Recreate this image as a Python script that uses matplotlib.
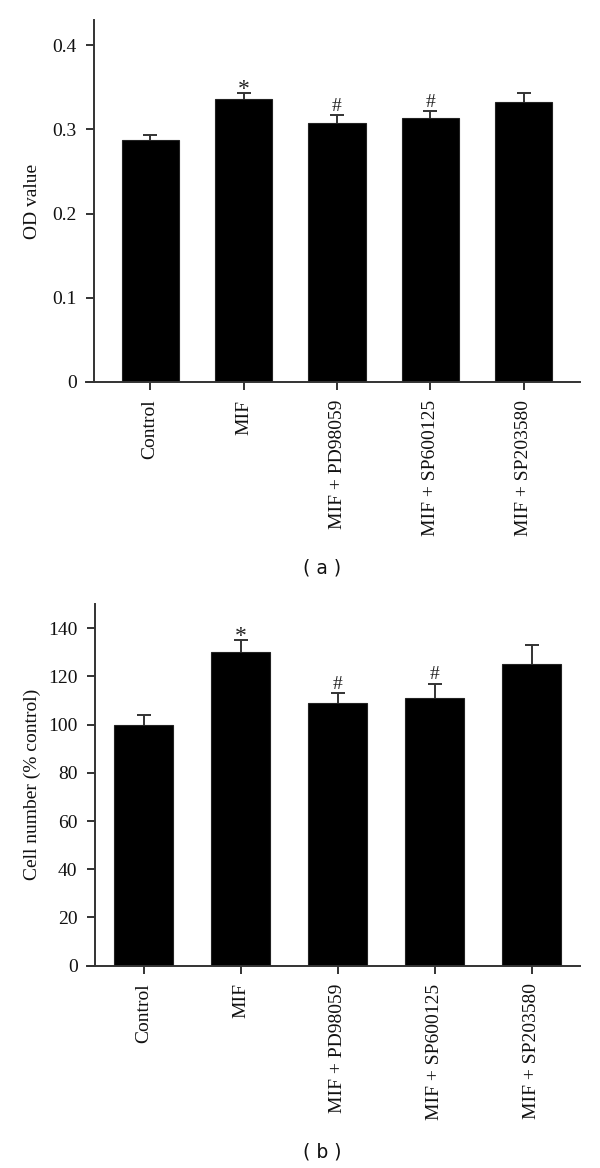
import matplotlib
matplotlib.use("Agg")
import matplotlib.pyplot as plt
import numpy as np

# data
groups = ["Control", "MIF", "MIF + PD98059", "MIF + SP600125", "MIF + SP203580"]
od_mean = [0.287, 0.336, 0.308, 0.314, 0.332]
od_err = [0.006, 0.007, 0.009, 0.008, 0.011]
od_marks = ["", "*", "#", "#", ""]
od_ticks = [0, 0.1, 0.2, 0.3, 0.4]
od_ticklabels = ["0", "0.1", "0.2", "0.3", "0.4"]

cell_mean = [100, 130, 109, 111, 125]
cell_err = [4, 5, 4, 6, 8]
cell_marks = ["", "*", "#", "#", ""]
cell_ticks = [0, 20, 40, 60, 80, 100, 120, 140]
cell_ticklabels = ["0", "20", "40", "60", "80", "100", "120", "140"]

serif = "Liberation Serif"
axcol = "#333333"

fig = plt.figure(figsize=(6, 11.68), dpi=100)


def panel(rect, means, errs, marks, ticks, ticklabels, ylim, xl, ylab, lab_x):
    ax = fig.add_axes(rect)
    x = np.arange(len(groups))
    ax.bar(x, means, width=0.61, color="black", edgecolor="#222222", linewidth=0.8, zorder=2)
    ax.errorbar(x, means, yerr=errs, fmt="none", ecolor=axcol, elinewidth=1.4,
                capsize=4.7, capthick=1.4, zorder=1)
    for xi, m, e, s in zip(x, means, errs, marks):
        if s == "*":
            ax.annotate(s, (xi, m + e), xytext=(0, -1), textcoords="offset points",
                        ha="center", va="baseline", fontsize=17, family=serif, color="#222222")
        elif s == "#":
            ax.annotate(s, (xi, m + e), xytext=(0, 3), textcoords="offset points",
                        ha="center", va="baseline", fontsize=14, family=serif, color="#222222")
    ax.set_xlim(xl)
    ax.set_ylim(ylim)
    ax.spines["top"].set_visible(False)
    ax.spines["right"].set_visible(False)
    ax.spines["left"].set_position(("data", xl[0] + (xl[1] - xl[0]) * 8 / 494))
    for sp in ("left", "bottom"):
        ax.spines[sp].set_color(axcol)
        ax.spines[sp].set_linewidth(1.4)
    ax.set_yticks(ticks)
    ax.set_yticklabels(ticklabels, family=serif, fontsize=14, color="#111111")
    ax.set_xticks(x)
    ax.set_xticklabels(groups, rotation=90, family=serif, fontsize=14, color="#111111",
                       ha="center", va="top")
    ax.tick_params(axis="both", length=5.8, width=1.4, color=axcol)
    ax.tick_params(axis="y", pad=6.5)
    ax.tick_params(axis="x", pad=7)
    ax.set_ylabel(ylab, family=serif, fontsize=14, color="#111111")
    ax.yaxis.set_label_coords(lab_x, 0.5)
    return ax


panel([86 / 600, 0.673, 494 / 600, 0.3099], od_mean, od_err, od_marks,
      od_ticks, od_ticklabels, (0, 0.43), (-0.6856, 4.6), "OD value", -0.092)
panel([86.7 / 600, 0.1732, 493.3 / 600, 0.3097], cell_mean, cell_err, cell_marks,
      cell_ticks, cell_ticklabels, (0, 150), (-0.5856, 4.5), "Cell number (% control)", -0.093)

fig.text(0.537, 1 - 568 / 1168, "( a )", ha="center", va="center", fontsize=13.5,
         family="DejaVu Sans", color="#111111")
fig.text(0.537, 1 - 1152 / 1168, "( b )", ha="center", va="center", fontsize=13.5,
         family="DejaVu Sans", color="#111111")

fig.savefig("out.png", dpi=100)
